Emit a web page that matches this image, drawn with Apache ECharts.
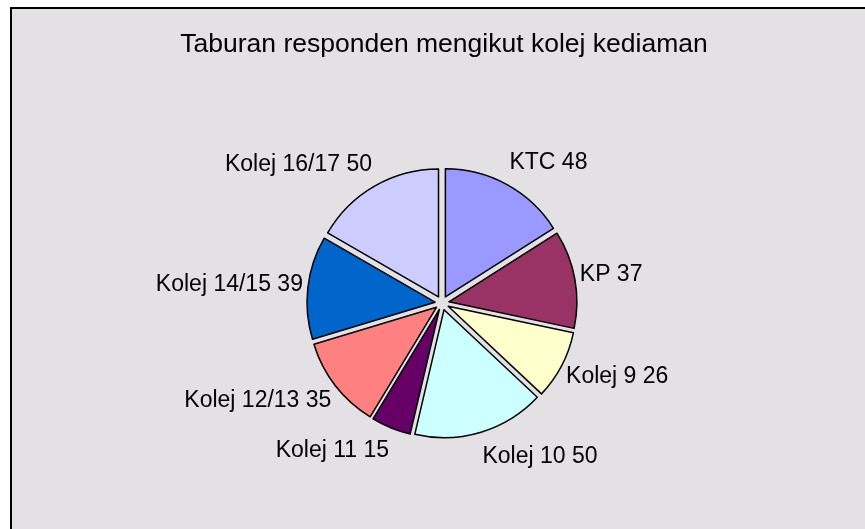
<!DOCTYPE html>
<html>
<head>
<meta charset="utf-8">
<script src="https://cdn.jsdelivr.net/npm/echarts@6/dist/echarts.min.js"></script>
<style>
  html, body { margin: 0; padding: 0; background: #fff; }
  #chart { width: 865px; height: 529px; }
</style>
</head>
<body>
<div id="chart"></div>
<script>
// 数据
const categories = ['KTC', 'KP', 'Kolej 9', 'Kolej 10', 'Kolej 11', 'Kolej 12/13', 'Kolej 14/15', 'Kolej 16/17'];
const values = [48, 37, 26, 50, 15, 35, 39, 50];
const colors = ['#9999ff', '#993366', '#ffffcc', '#ccffff', '#660066', '#ff8080', '#0066cc', '#ccccff'];
const titleText = 'Taburan responden mengikut kolej kediaman';

// 布局
const CX = 442, CY = 303, R = 128;
const LABEL_RX = 140, LABEL_RY = 160;
const FONT = 'Arial, "Liberation Sans", sans-serif';

const total = values.reduce((a, b) => a + b, 0);
function midAngle(i) {
    let before = 0;
    for (let k = 0; k < i; k++) before += values[k];
    return (before + values[i] / 2) / total * 2 * Math.PI;
}

// 扇区标签：按中间角度放在饼图外侧
const labelTexts = categories.map((name, i) => {
    const a = midAngle(i);
    const s = Math.sin(a), c = Math.cos(a);
    return {
        type: 'text', z: 10, silent: true,
        style: {
            x: CX + LABEL_RX * s,
            y: CY - LABEL_RY * c,
            text: name + ' ' + values[i],
            fill: '#000',
            font: '23px ' + FONT,
            textAlign: s >= 0 ? 'left' : 'right',
            textVerticalAlign: 'middle'
        }
    };
});

const chart = echarts.init(document.getElementById('chart'));
chart.setOption({
    animation: false,
    graphic: [
        {
            type: 'rect', z: -10, silent: true,
            shape: { x: 11, y: 8, width: 880, height: 540 },
            style: { fill: '#e3e1e4', stroke: '#000', lineWidth: 2 }
        },
        {
            type: 'text', z: 10, silent: true,
            style: {
                x: 444, y: 45, text: titleText, fill: '#000',
                font: '26.5px ' + FONT, textAlign: 'center', textVerticalAlign: 'middle'
            }
        }
    ].concat(labelTexts),
    series: [{
        type: 'pie',
        silent: true,
        center: [CX, CY],
        radius: R,
        startAngle: 90,
        clockwise: true,
        selectedMode: 'multiple',
        selectedOffset: 7,
        itemStyle: { borderColor: '#000', borderWidth: 1.5 },
        select: { itemStyle: { borderColor: '#000', borderWidth: 1.5 } },
        label: { show: false },
        labelLine: { show: false },
        data: categories.map((name, i) => ({
            name: name,
            value: values[i],
            selected: true,
            itemStyle: { color: colors[i] },
            select: { itemStyle: { color: colors[i] } }
        }))
    }]
});
</script>
</body>
</html>
